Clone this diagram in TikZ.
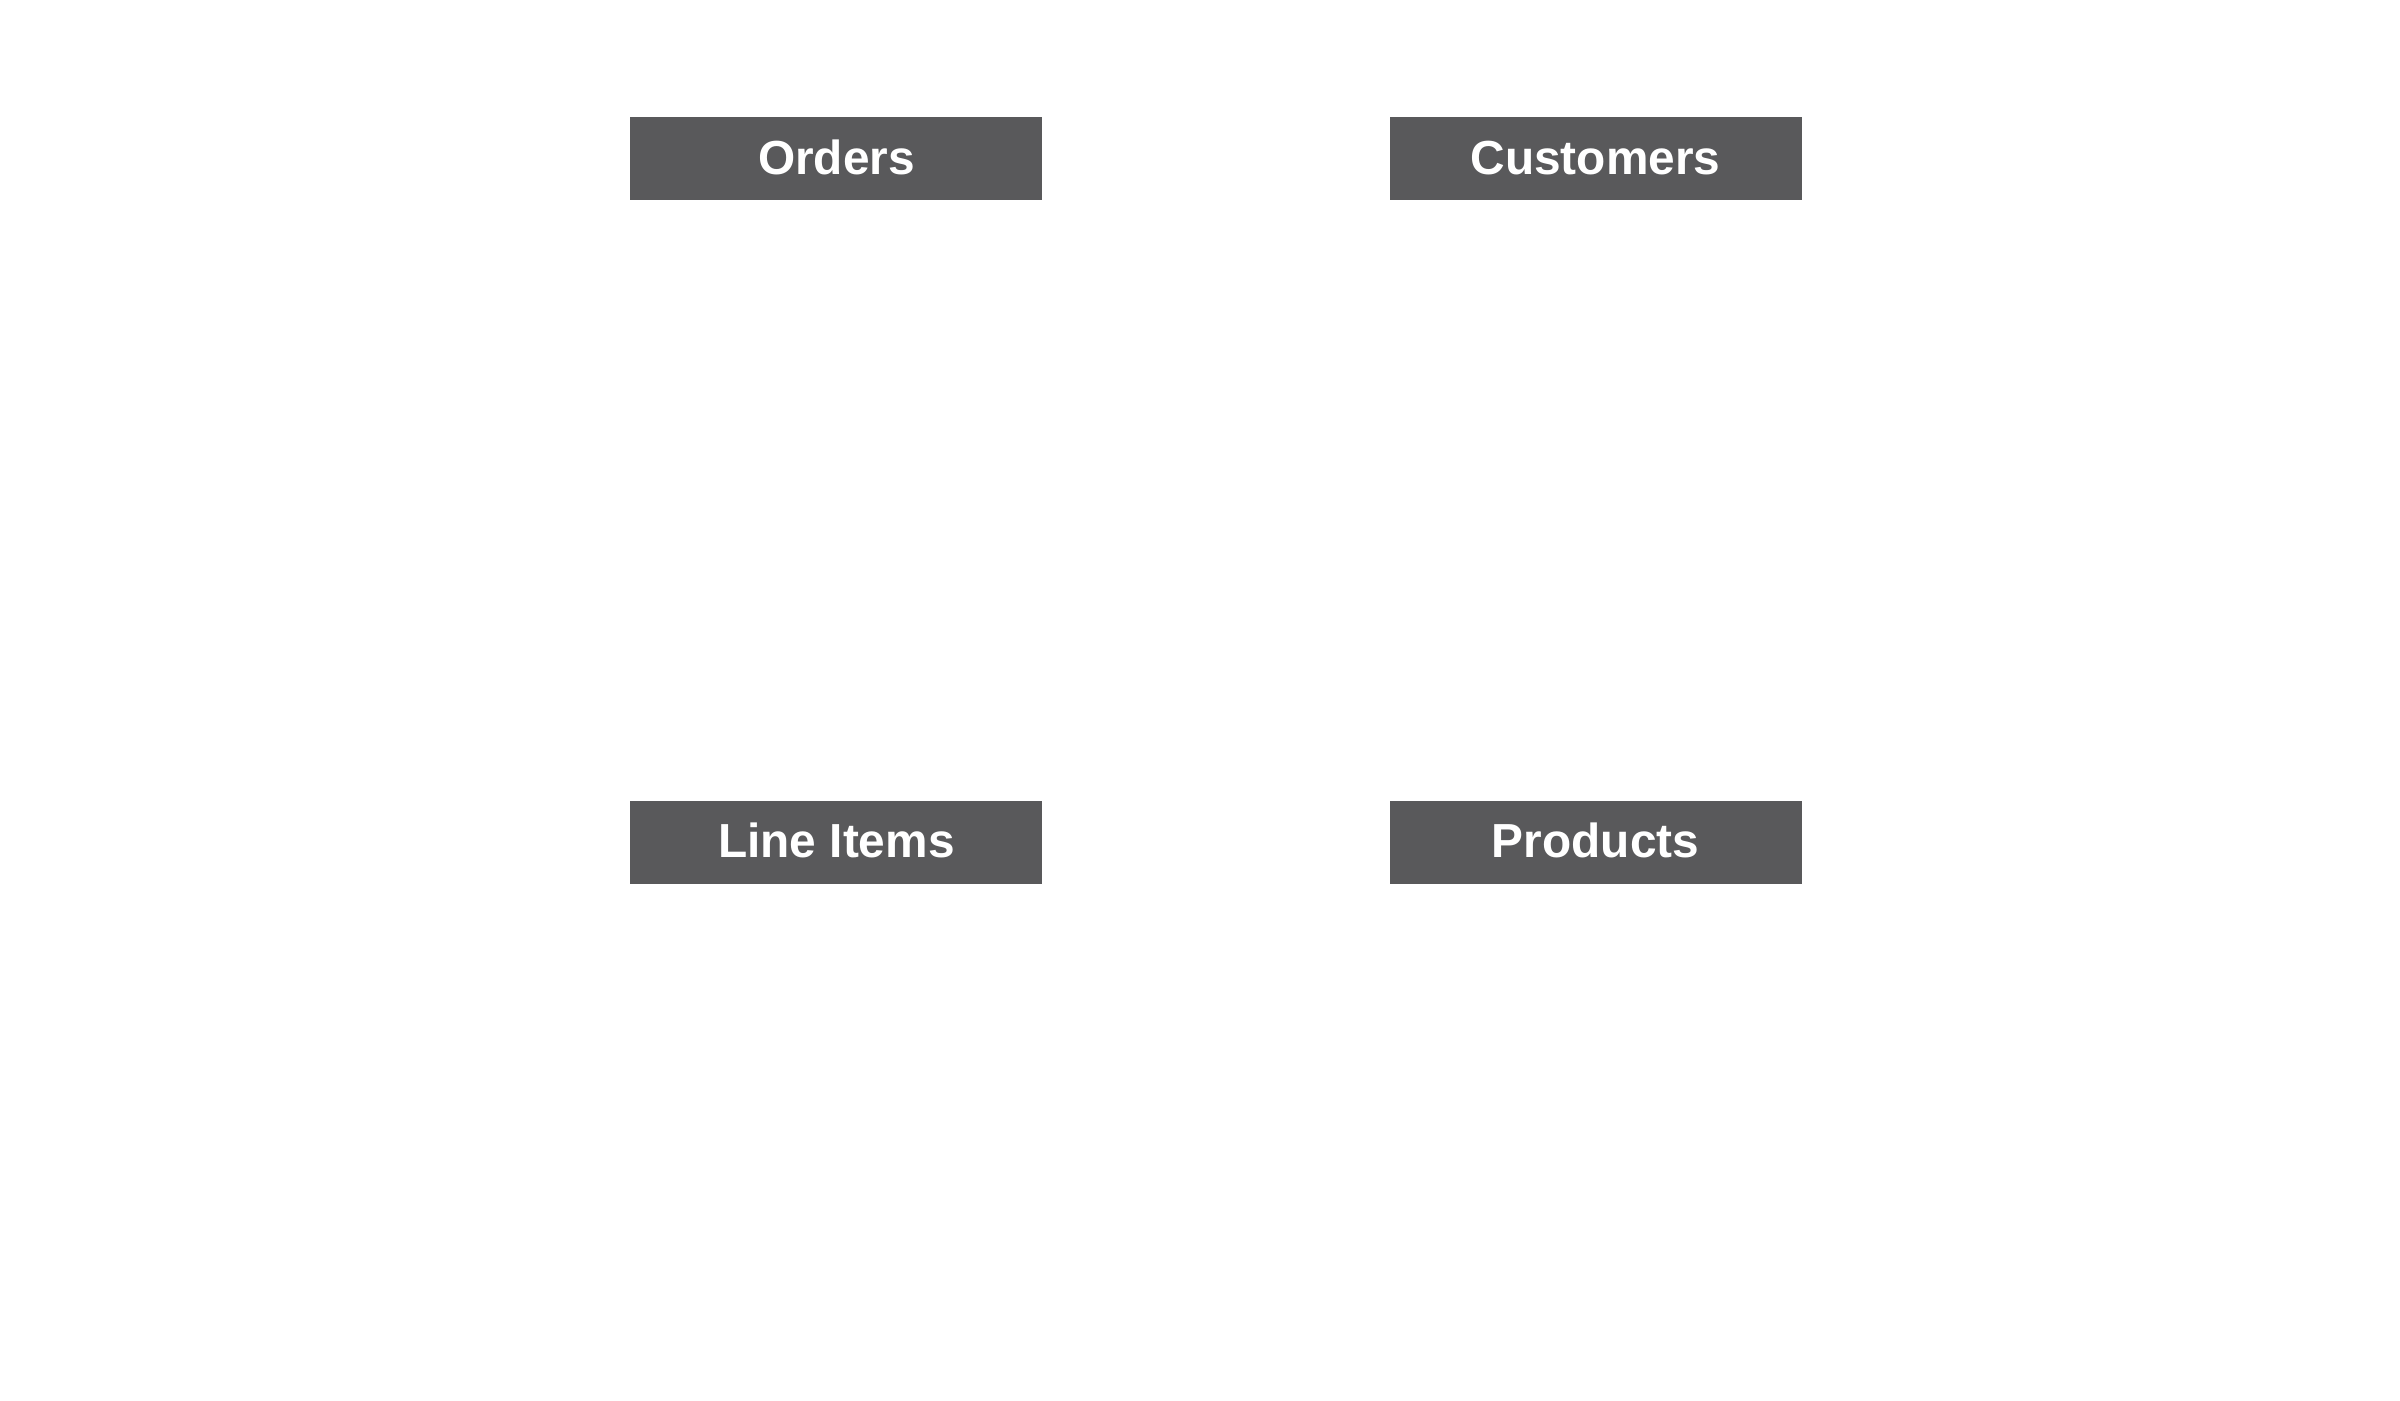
\documentclass[tikz,border=0pt]{standalone}
\usepackage{fontspec}
\setmainfont{Liberation Sans}
\definecolor{boxgray}{HTML}{59595B}
\begin{document}
\begin{tikzpicture}[x=1cm,y=1cm,
  entity/.style={fill=boxgray, draw=none, minimum width=4.12cm, minimum height=0.83cm,
    inner sep=0pt, text height=0.35cm, text depth=0.046cm, text=white,
    font=\fontsize{13.6}{16}\selectfont\bfseries}]
\useasboundingbox (0,0) rectangle (24,14);
\node[entity] (orders)    at (8.364,12.41) {Orders};
\node[entity] (customers) at (15.955,12.41) {Customers};
\node[entity] (lineitems) at (8.364,5.575) {Line Items};
\node[entity] (products)  at (15.955,5.575) {Products};
\end{tikzpicture}
\end{document}
